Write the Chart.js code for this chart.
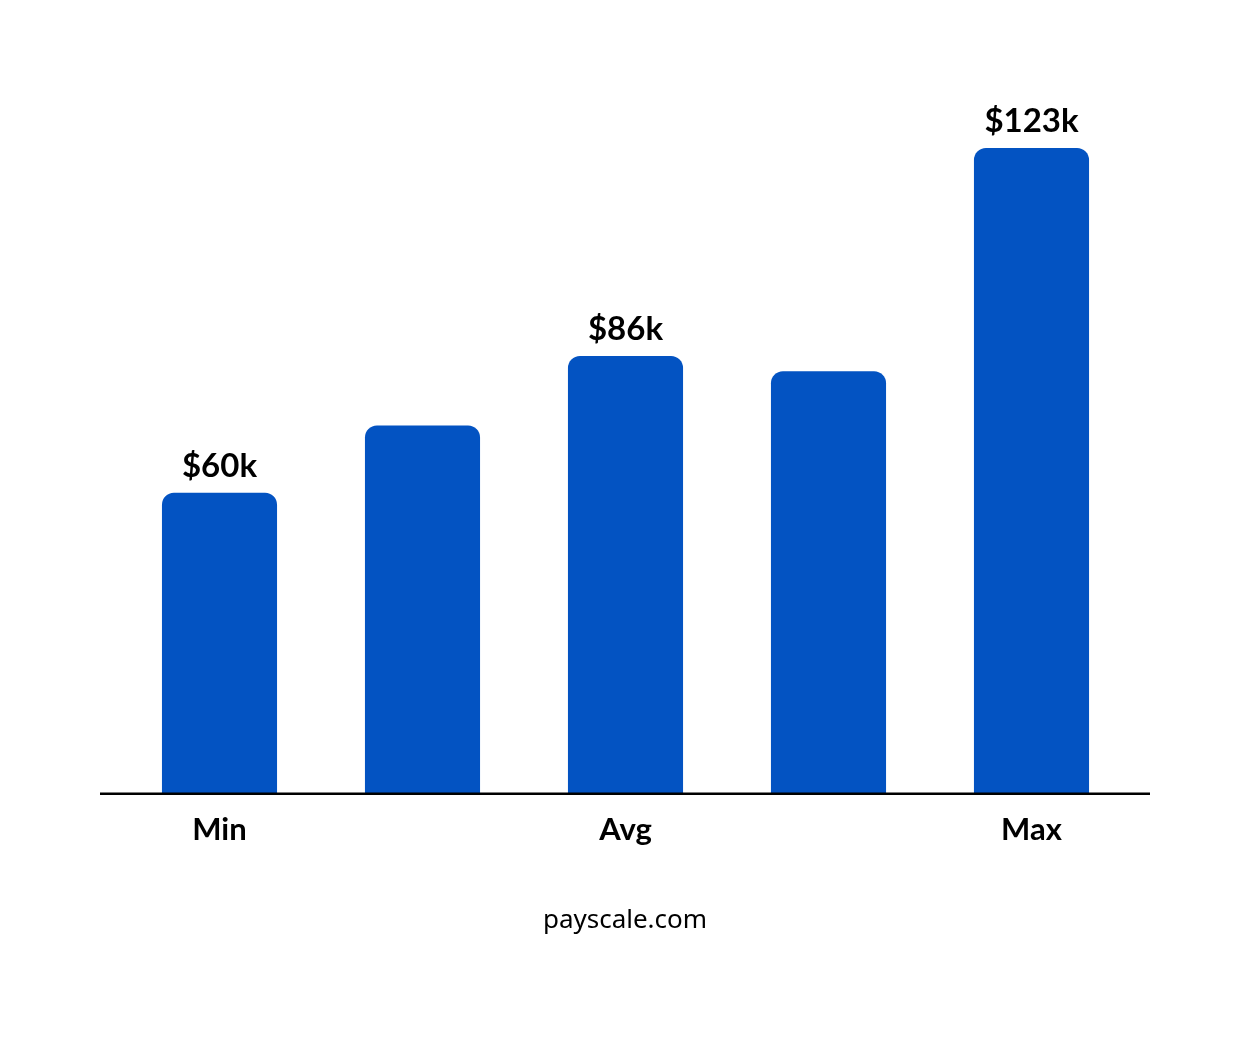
<!DOCTYPE html>
<html>
<head>
<meta charset="utf-8">
<script src="https://cdn.jsdelivr.net/npm/chart.js@4"></script>
<style>
  html, body { margin: 0; background: #fff; }
  #wrap { width: 1250px; height: 1042px; }
</style>
</head>
<body>
<div id="wrap"><canvas id="myChart"></canvas></div>
<script>
const categories = ['Min', '', 'Avg', '', 'Max'];
const salaries = [60, 72.3, 85, 82.2, 123];
const valueLabels = ['$60k', '', '$86k', '', '$123k'];
const source = 'payscale.com';

const barLabels = {
    id: 'barLabels',
    afterDatasetsDraw(chart) {
        const ctx = chart.ctx;
        const meta = chart.getDatasetMeta(0);
        const base = chart.chartArea.bottom;
        ctx.save();
        // baseline runs wider than the bars area
        ctx.strokeStyle = '#000';
        ctx.lineWidth = 2.5;
        ctx.beginPath();
        ctx.moveTo(100, base);
        ctx.lineTo(1150, base);
        ctx.stroke();

        ctx.fillStyle = '#000';
        ctx.textAlign = 'center';
        ctx.textBaseline = 'bottom';
        ctx.font = 'bold 33px Lato, "Noto Sans", sans-serif';
        meta.data.forEach((bar, i) => {
            if (valueLabels[i]) ctx.fillText(valueLabels[i], bar.x, bar.y - 10);
        });
        ctx.font = '26px "Noto Sans", sans-serif';
        ctx.textBaseline = 'middle';
        ctx.fillText(source, chart.width / 2, 921);
        ctx.restore();
    }
};

new Chart(document.getElementById('myChart'), {
    type: 'bar',
    data: {
        labels: categories,
        datasets: [{
            data: salaries,
            backgroundColor: '#0353c2',
            borderRadius: { topLeft: 12, topRight: 12 },
            borderSkipped: 'bottom',
            categoryPercentage: 1,
            barPercentage: 0.567
        }]
    },
    options: {
        responsive: true,
        maintainAspectRatio: false,
        animation: false,
        layout: { padding: { top: 148, left: 118, right: 117, bottom: 183 } },
        plugins: { legend: { display: false }, tooltip: { enabled: false } },
        scales: {
            x: {
                grid: { display: false },
                border: { display: false },
                ticks: {
                    color: '#000',
                    padding: 10,
                    font: { family: 'Lato, "Noto Sans", sans-serif', size: 31, weight: 'bold' }
                }
            },
            y: { display: false, min: 5, max: 123 }
        }
    },
    plugins: [barLabels]
});
</script>
</body>
</html>
